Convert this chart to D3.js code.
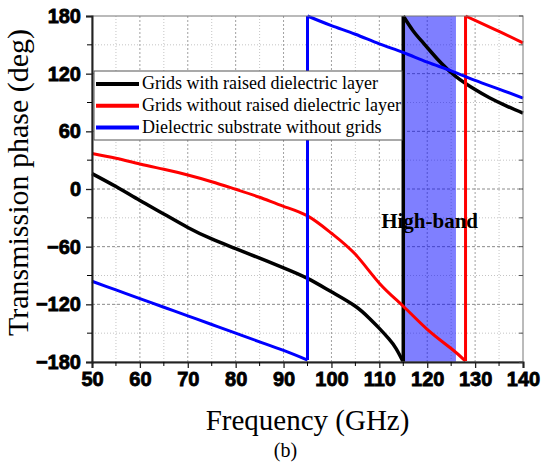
<!DOCTYPE html>
<html>
<head>
<meta charset="utf-8">
<script src="https://cdn.jsdelivr.net/npm/d3@7"></script>
<style>
    body { margin: 0; background: #fff; }
    svg { display: block; }
</style>
</head>
<body>
<div id="chart"></div>
<script>

// GHz / degrees (jumps are two points at one frequency)
const raisedFreq  = [50, 55, 60, 65, 70, 75, 80, 85, 90, 95, 100, 105, 108, 110, 112, 113.5, 115, 115, 117, 119, 121, 123, 126, 130, 133, 136.5, 140];
const raisedPhase = [16, 2.5, -12, -26, -40, -52, -62, -72, -82, -93, -107, -122, -135, -145, -156, -166, -180, 180, 165, 153, 141.5, 130.5, 117, 103.5, 95, 86.5, 79];

const noRaisedFreq  = [50, 55, 60, 65, 70, 75, 80, 85, 90, 95, 100, 105, 110, 115, 120, 125, 128, 128, 130, 135, 140];
const noRaisedPhase = [37, 32, 26, 20.5, 14.6, 7.6, -0.3, -8.6, -18, -28, -46, -68, -98, -122, -146, -166, -179, 180, 175.5, 164, 152];

const substrateFreq  = [50, 55, 60, 65, 70, 75, 80, 85, 90, 95, 95, 100, 105, 110, 115, 120, 125, 130, 135, 140];
const substratePhase = [-96, -105, -114, -123, -132, -141, -150, -159, -168, -178, 180, 170, 161, 151, 142, 132, 123, 113, 104, 94.5];

const seriesNames  = ['Grids with raised dielectric layer', 'Grids without raised dielectric layer', 'Dielectric substrate without grids'];
const seriesColors = ['#000000', '#ff0000', '#0000ff'];

const bandRange  = [115, 126];
const bandLabel  = 'High-band';
const xTicks = [50, 60, 70, 80, 90, 100, 110, 120, 130, 140];
const yTicks = [-180, -120, -60, 0, 60, 120, 180];

const width = 542, height = 466;
const margin = {left: 92, right: 19, top: 16, bottom: 104};

const svg = d3.select('#chart').append('svg')
    .attr('width', width)
    .attr('height', height);

const x = d3.scaleLinear().domain([50, 140]).range([margin.left, width - margin.right]);
const y = d3.scaleLinear().domain([-180, 180]).range([height - margin.bottom, margin.top]);

const zip = (fs, ps) => fs.map((f, i) => ({f: f, p: ps[i]}));
const series = [
    zip(raisedFreq, raisedPhase),
    zip(noRaisedFreq, noRaisedPhase),
    zip(substrateFreq, substratePhase)
];

// cut a series where the phase wraps (two points share a frequency)
const splitAtWraps = pts => {
    const segs = [[pts[0]]];
    for(let i = 1; i < pts.length; i++){
        if(pts[i].f == pts[i-1].f) segs.push([]);
        segs[segs.length-1].push(pts[i]);
    }
    return segs;
};

// grid
const minorX = d3.range(55, 140, 10), minorY = d3.range(-150, 180, 60);
const grid = svg.append('g');
grid.selectAll('.gx').data(minorX.concat(xTicks.slice(1, -1))).enter()
    .append('line')
    .attr('x1', d => x(d)).attr('x2', d => x(d))
    .attr('y1', y(-180)).attr('y2', y(180))
    .attr('stroke', d => d % 10 ? '#c4c4c4' : '#a0a0a0')
    .attr('stroke-dasharray', d => d % 10 ? '1,2' : '2,2');
grid.selectAll('.gy').data(minorY.concat(yTicks.slice(1, -1))).enter()
    .append('line')
    .attr('y1', d => y(d)).attr('y2', d => y(d))
    .attr('x1', x(50)).attr('x2', x(140))
    .attr('stroke', d => d % 60 ? '#c4c4c4' : '#8a8a8a')
    .attr('stroke-dasharray', d => d % 60 ? '1,2' : '3,2');

// high band
svg.append('rect')
    .attr('x', x(bandRange[0]))
    .attr('width', x(bandRange[1]) - x(bandRange[0]))
    .attr('y', y(180))
    .attr('height', y(-180) - y(180))
    .attr('fill', '#0000ff')
    .attr('fill-opacity', 0.5);

// curves
const line = d3.line().x(d => x(d.f)).y(d => y(d.p)).curve(d3.curveNatural);
series.forEach((pts, i) => {
    const g = svg.append('g')
        .attr('fill', 'none')
        .attr('stroke', seriesColors[i])
        .attr('stroke-width', i == 0 ? 3.5 : 3)
        .attr('stroke-linejoin', 'round');
    const segs = splitAtWraps(pts);
    g.selectAll('path').data(segs).enter()
        .append('path')
        .attr('d', line);
    // vertical jumps
    g.selectAll('line').data(segs.slice(1)).enter()
        .append('line')
        .attr('x1', (d, j) => x(segs[j][segs[j].length-1].f))
        .attr('y1', (d, j) => y(segs[j][segs[j].length-1].p))
        .attr('x2', d => x(d[0].f))
        .attr('y2', d => y(d[0].p));
});

svg.append('text')
    .attr('x', x(120.5))
    .attr('y', 228)
    .attr('text-anchor', 'middle')
    .attr('font-family', '"Liberation Serif", "Times New Roman", serif')
    .attr('font-weight', 'bold')
    .attr('font-size', 21)
    .text(bandLabel);

// frame
svg.append('rect')
    .attr('x', x(50)).attr('y', y(180))
    .attr('width', x(140) - x(50)).attr('height', y(-180) - y(180))
    .attr('fill', 'none')
    .attr('stroke', '#777')
    .attr('stroke-width', 1);

const tickFont = g => g
    .attr('font-family', '"Liberation Sans", Arial, sans-serif')
    .attr('font-weight', 'bold')
    .attr('font-size', 20)
    .attr('fill', '#000')
    .attr('stroke', '#000')
    .attr('stroke-width', 0.8);

const xAxis = svg.append('g')
    .attr('transform', `translate(0,${y(-180)})`)
    .call(d3.axisBottom(x).tickValues(xTicks).tickSize(6).tickPadding(4).tickFormat(d3.format('d')));
xAxis.selectAll('.tick text').call(tickFont);
xAxis.append('g').selectAll('line').data(minorX).enter()
    .append('line')
    .attr('x1', d => x(d)).attr('x2', d => x(d))
    .attr('y1', 0).attr('y2', 4)
    .attr('stroke', '#000');

const yAxis = svg.append('g')
    .attr('transform', `translate(${x(50)},0)`)
    .call(d3.axisLeft(y).tickValues(yTicks).tickSize(6).tickPadding(5).tickFormat(d3.format('d')));
yAxis.selectAll('.tick text').call(tickFont);
yAxis.append('g').selectAll('line').data(minorY).enter()
    .append('line')
    .attr('y1', d => y(d)).attr('y2', d => y(d))
    .attr('x1', 0).attr('x2', -5)
    .attr('stroke', '#000');

[xAxis, yAxis].forEach(a => {
    a.select('.domain').attr('stroke', '#222').attr('stroke-width', 2);
    a.selectAll('.tick line').attr('stroke', '#222').attr('stroke-width', 1.3);
});

// inner ticks on the right side
svg.append('g').selectAll('line').data(minorY.concat(yTicks)).enter()
    .append('line')
    .attr('y1', d => y(d)).attr('y2', d => y(d))
    .attr('x1', x(140)).attr('x2', x(140) - 4)
    .attr('stroke', '#555');

// axis titles
const serif = '"Liberation Serif", "Times New Roman", serif';
svg.append('text')
    .attr('x', (x(50) + x(140)) / 2)
    .attr('y', 430)
    .attr('text-anchor', 'middle')
    .attr('font-family', serif)
    .attr('font-size', 29)
    .text('Frequency (GHz)');

svg.append('text')
    .attr('transform', 'translate(28,182.5) rotate(-90)')
    .attr('text-anchor', 'middle')
    .attr('font-family', serif)
    .attr('font-size', 30)
    .text('Transmission phase (deg)');

svg.append('text')
    .attr('x', 285.5)
    .attr('y', 457)
    .attr('text-anchor', 'middle')
    .attr('font-family', serif)
    .attr('font-size', 20)
    .text('(b)');

// legend
const legend = svg.append('g').attr('transform', 'translate(94,71)');
legend.append('rect')
    .attr('width', 308).attr('height', 69)
    .attr('fill', '#fff')
    .attr('stroke', '#555')
    .attr('stroke-width', 1);
const rows = legend.selectAll('.row').data(seriesNames).enter()
    .append('g')
    .attr('transform', (d, i) => `translate(0,${13 + i * 21.8})`);
rows.append('line')
    .attr('x1', 2).attr('x2', 45)
    .attr('stroke', (d, i) => seriesColors[i])
    .attr('stroke-width', 4);
rows.append('text')
    .attr('x', 48)
    .attr('y', 5)
    .attr('font-family', serif)
    .attr('font-size', 18)
    .text(d => d);

</script>
</body>
</html>
